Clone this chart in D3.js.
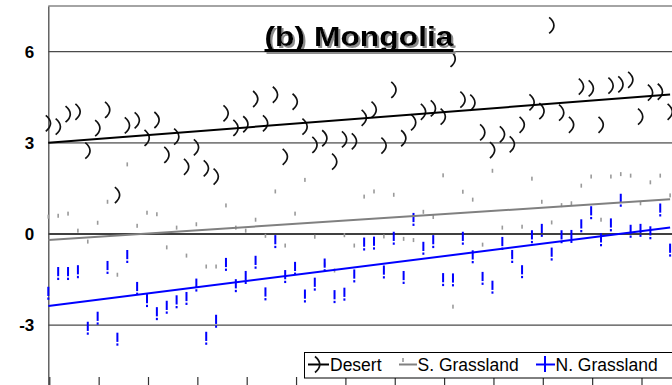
<!DOCTYPE html>
<html><head><meta charset="utf-8">
<script src="https://cdn.jsdelivr.net/npm/d3@7"></script>
<style>
body{margin:0;background:#fff;}
svg{display:block;font-family:Arial,"Liberation Sans",sans-serif;}
</style>
</head><body>
<svg id="c" width="672" height="385"></svg>
<script>
// ---- data ----
const pointIndex = d3.range(64);
const desert = [3.64,3.53,3.94,4.02,2.74,3.48,4.08,1.28,3.57,3.74,3.16,3.75,2.60,3.20,2.21,2.85,2.16,1.89,3.97,3.49,
  3.61,4.44,3.64,4.58,2.54,4.35,3.53,2.93,3.15,2.38,3.11,3.05,3.82,4.09,2.91,4.74,3.15,3.67,4.02,4.13,
  3.86,5.76,4.42,4.32,3.34,2.76,3.28,2.95,3.59,4.33,4.04,6.86,3.99,3.59,4.85,4.79,3.59,4.88,4.92,5.07,
  3.86,4.65,4.68,4.02];
const sGrassland = [0.57,0.60,0.67,0.11,-0.25,0.37,1.06,-1.34,2.29,0.27,0.70,0.65,-0.44,0.21,-0.71,0.32,-1.07,-1.07,0.94,0.21,
  0.11,0.47,-0.06,1.40,-0.38,0.67,1.78,-0.09,-1.00,-1.20,-0.04,-0.38,1.23,1.40,-0.08,1.29,-0.16,-0.20,0.73,0.56,
  1.93,-2.39,1.39,1.13,-0.35,2.08,0.21,-0.65,0.24,1.82,1.06,0.38,0.95,1.01,1.59,1.89,0.47,1.89,1.97,1.92,
  1.01,1.70,1.92,1.27];
const nGrassland = [-1.95,-1.30,-1.30,-1.24,-3.10,-2.77,-1.10,-3.46,-0.74,-1.79,-2.19,-2.62,-2.41,-2.23,-2.12,-1.68,-3.43,-2.87,-1.00,-1.70,
  -1.43,-0.93,-1.97,-0.25,-1.40,-1.13,-2.04,-1.65,-1.02,-2.06,-1.98,-1.38,-0.33,-0.30,-1.25,-0.14,-1.43,0.48,-0.47,-0.25,
  -1.50,-1.51,-0.14,-0.75,-1.46,-1.75,-0.31,-0.74,-1.24,-0.09,0.12,-0.66,-0.09,-0.08,0.27,0.70,-0.19,0.30,1.11,0.09,
  0.12,0.04,0.79,-0.53];
// linear trend lines: value at first and last point
const trendDesert = [3.00, 4.59];
const trendSGrassland = [-0.20, 1.14];
const trendNGrassland = [-2.37, 0.21];
const yTicks = [-3, 0, 3, 6];
const yTickLabels = ["-3", "0", "3", "6"];
const seriesNames = ["Desert", "S. Grassland", "N. Grassland"];
const titleText = "(b) Mongolia";

// ---- scales ----
const svg = d3.select("#c");
const defs = svg.append("defs");
const f = defs.append("filter").attr("id", "shadow").attr("x", "-10%").attr("y", "-20%")
  .attr("width", "130%").attr("height", "160%");
f.append("feDropShadow").attr("dx", 2).attr("dy", 2).attr("stdDeviation", 0.4)
  .attr("flood-color", "#8c8c8c").attr("flood-opacity", 1);

const x = d3.scaleLinear().domain([0, 63]).range([48.3, 48.3 + 63 * 9.87]);
const y = d3.scaleLinear().domain([-5, 7.5]).range([386, 6]);
const plotLeft = x(0), plotTop = y(7.5), plotBottom = y(-5);

// gridlines
svg.append("g").selectAll("line").data(yTicks).join("line")
  .attr("x1", plotLeft).attr("x2", 672)
  .attr("y1", d => y(d)).attr("y2", d => y(d))
  .attr("stroke", d => d === 0 ? "#000" : (d === 3 ? "#7f7f7f" : "#4a4a4a"))
  .attr("stroke-width", d => d === 0 ? 1.6 : (d === 3 ? 1.8 : 1.2));
// top border
svg.append("line").attr("x1", plotLeft).attr("x2", 672).attr("y1", plotTop).attr("y2", plotTop)
  .attr("stroke", "#4a4a4a").attr("stroke-width", 1.2);

// y axis
const yAxis = d3.axisLeft(y).tickValues(yTicks).tickSize(0).tickPadding(14)
  .tickFormat((d, i) => yTickLabels[i]);
const gy = svg.append("g").attr("transform", `translate(${plotLeft},0)`).call(yAxis);
gy.select(".domain").attr("stroke", "#4a4a4a").attr("stroke-width", 1.3);
gy.selectAll("text").attr("font-size", 17).attr("font-weight", "bold").attr("fill", "#000")
  .attr("font-family", "Arial, 'Liberation Sans', sans-serif");

// x axis (ticks only visible)
const xAxis = d3.axisBottom(x).tickValues(d3.range(0, 70, 5)).tickSize(18).tickFormat("");
const gx = svg.append("g").attr("transform", `translate(0,${plotBottom - 9})`).call(xAxis);
gx.select(".domain").remove();
gx.selectAll(".tick line").attr("stroke", "#333").attr("stroke-width", 1.2).attr("transform", "translate(1,0)");

// markers
const gD = svg.append("g");
gD.selectAll("path").data(desert).join("path")
  .attr("transform", (d, i) => `translate(${x(i)},${y(d)})`)
  .attr("d", "M-2.5,-8 Q7,0 -2.5,8")
  .attr("fill", "none").attr("stroke", "#111").attr("stroke-width", 1.7);

const gS = svg.append("g");
gS.selectAll("rect").data(sGrassland).join("rect")
  .attr("x", (d, i) => x(i) - 0.8).attr("y", d => y(d) - 2)
  .attr("width", 1.6).attr("height", 4).attr("fill", "#9a9a9a");

function bang(sel) {
  sel.append("rect").attr("x", -1).attr("y", -6.5).attr("width", 2).attr("height", 9.2);
  sel.append("rect").attr("x", -1).attr("y", 4.2).attr("width", 2).attr("height", 2.3);
}
const gN = svg.append("g").attr("fill", "#0000ff");
gN.selectAll("g").data(nGrassland).join("g")
  .attr("transform", (d, i) => `translate(${x(i)},${y(d)})`)
  .call(bang);

// trend lines
const trends = [
  {v: trendDesert, c: "#000"},
  {v: trendSGrassland, c: "#808080"},
  {v: trendNGrassland, c: "#0000ff"}
];
svg.append("g").selectAll("line").data(trends).join("line")
  .attr("x1", x(0)).attr("y1", d => y(d.v[0]))
  .attr("x2", x(63)).attr("y2", d => y(d.v[1]))
  .attr("stroke", d => d.c).attr("stroke-width", 2);

// title (single text with drop shadow)
const tg = svg.append("g").attr("filter", "url(#shadow)");
const tx = 264.5, tb = 45.5, tw = 189;
tg.append("text").attr("x", tx).attr("y", tb).text(titleText)
  .attr("font-size", 28).attr("font-weight", "bold").attr("fill", "#000")
  .attr("textLength", tw).attr("lengthAdjust", "spacingAndGlyphs");
tg.append("rect").attr("x", tx).attr("y", tb + 3.5).attr("width", tw).attr("height", 3).attr("fill", "#000");

// legend
const lg = svg.append("g");
lg.append("rect").attr("x", 304.5).attr("y", 352.5).attr("width", 400).attr("height", 25.5)
  .attr("fill", "#fff").attr("stroke", "#000").attr("stroke-width", 1);
const ly = 364.5;
const items = [
  {name: seriesNames[0], x0: 308, x1: 329, tx: 330, c: "#000"},
  {name: seriesNames[1], x0: 399, x1: 417, tx: 417.5, c: "#808080"},
  {name: seriesNames[2], x0: 536, x1: 555, tx: 555.5, c: "#0000ff"}
];
items.forEach((it, k) => {
  lg.append("line").attr("x1", it.x0).attr("x2", it.x1).attr("y1", ly).attr("y2", ly)
    .attr("stroke", it.c).attr("stroke-width", 2);
  const cx = (it.x0 + it.x1) / 2;
  if (k === 0) {
    lg.append("path").attr("transform", `translate(${cx - 1},${ly})`).attr("d", "M-2.5,-8 Q7,0 -2.5,8")
      .attr("fill", "none").attr("stroke", "#111").attr("stroke-width", 1.7);
  } else if (k === 1) {
    lg.append("rect").attr("x", cx - 5.8).attr("y", ly - 6.5).attr("width", 1.6).attr("height", 4).attr("fill", "#9a9a9a");
  } else {
    lg.append("rect").attr("x", cx - 1.5).attr("y", ly - 8.5).attr("width", 2).attr("height", 16).attr("fill", "#0000ff");
  }
  lg.append("text").attr("x", it.tx).attr("y", 371).text(it.name)
    .attr("font-size", 17.5).attr("fill", "#000");
});
</script>
</body></html>
